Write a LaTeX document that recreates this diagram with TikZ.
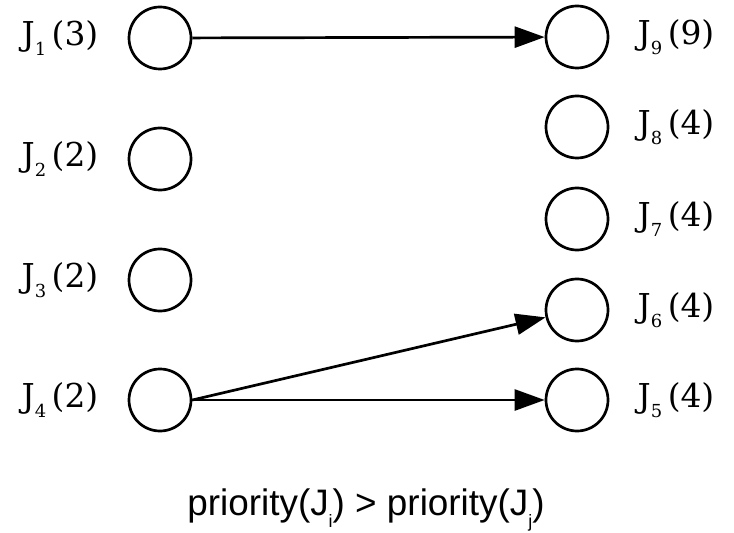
\documentclass[tikz,border=0pt]{standalone}
\usepackage{fontspec}
\setmainfont{DejaVu Serif}
\newfontfamily\lsans{Liberation Sans}
\usetikzlibrary{arrows.meta}
\newcommand\jsub[1]{\raisebox{-0.32em}{\fontsize{18}{18}\selectfont #1}}
\begin{document}
\begin{tikzpicture}[x=1bp,y=-1bp,
  job/.style={circle,draw,line width=2.7bp,minimum size=62bp,inner sep=0pt},
  lbl/.style={font=\fontsize{33}{33}\selectfont,inner sep=0pt},
  conn/.style={line width=2.7bp,-{Triangle[length=30bp,width=21bp]}}]
\useasboundingbox (0,0) rectangle (734,533);
\node[job] (a1) at (160,38) {};
\node[job] (a2) at (160,159) {};
\node[job] (a3) at (160,280) {};
\node[job] (a4) at (160,400) {};
\node[job] (b9) at (577,37) {};
\node[job] (b8) at (577,127) {};
\node[job] (b7) at (577,219) {};
\node[job] (b6) at (577,310) {};
\node[job] (b5) at (577,400) {};
\node[lbl] (la1) at (60,38) {J\jsub{1}\,(3)};
\node[lbl] (la2) at (60,159) {J\jsub{2}\,(2)};
\node[lbl] (la3) at (60,280) {J\jsub{3}\,(2)};
\node[lbl] (la4) at (60,400) {J\jsub{4}\,(2)};
\node[lbl] (lb9) at (676,37) {J\jsub{9}\,(9)};
\node[lbl] (lb8) at (676,127) {J\jsub{8}\,(4)};
\node[lbl] (lb7) at (676,219) {J\jsub{7}\,(4)};
\node[lbl] (lb6) at (676,310) {J\jsub{6}\,(4)};
\node[lbl] (lb5) at (676,400) {J\jsub{5}\,(4)};
\draw[conn] (a1) -- (b9);
\draw[conn] (a4.east) -- (b6);
\draw[conn] (a4) -- (b5);
\node[font=\lsans\fontsize{37}{37}\selectfont,inner sep=0pt] (cap) at (366,510)
  {priority(J\raisebox{-0.3em}{\fontsize{18}{18}\selectfont i}) > priority(J\raisebox{-0.3em}{\fontsize{18}{18}\selectfont j})};
\end{tikzpicture}
\end{document}
